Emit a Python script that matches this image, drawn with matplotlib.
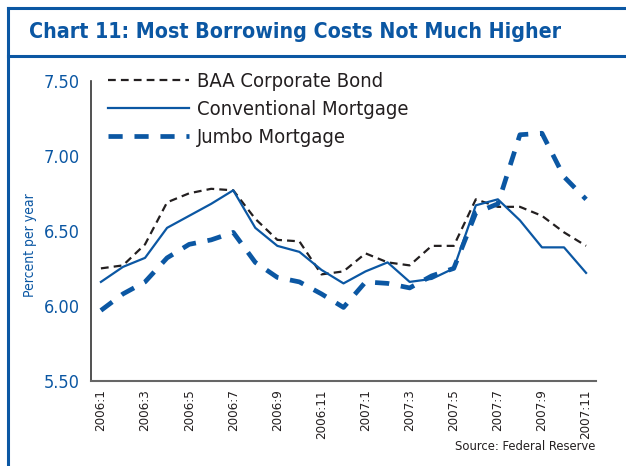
import os
import matplotlib
matplotlib.use("Agg")
import matplotlib.pyplot as plt
from matplotlib.lines import Line2D
from matplotlib import font_manager as fm

months = ["2006:1", "2006:2", "2006:3", "2006:4", "2006:5", "2006:6",
          "2006:7", "2006:8", "2006:9", "2006:10", "2006:11", "2006:12",
          "2007:1", "2007:2", "2007:3", "2007:4", "2007:5", "2007:6",
          "2007:7", "2007:8", "2007:9", "2007:10", "2007:11"]
baa = [6.25, 6.27, 6.41, 6.69, 6.75, 6.78, 6.77, 6.58, 6.44, 6.43, 6.21, 6.23,
       6.35, 6.29, 6.27, 6.40, 6.40, 6.71, 6.66, 6.66, 6.60, 6.49, 6.40]
conventional = [6.16, 6.26, 6.32, 6.52, 6.60, 6.68, 6.77, 6.52, 6.40, 6.36, 6.24, 6.15,
                6.23, 6.29, 6.16, 6.18, 6.25, 6.67, 6.71, 6.57, 6.39, 6.39, 6.22]
jumbo = [5.97, 6.08, 6.16, 6.32, 6.41, 6.44, 6.49, 6.29, 6.19, 6.16, 6.08, 5.99,
         6.16, 6.15, 6.12, 6.20, 6.25, 6.62, 6.68, 7.14, 7.15, 6.86, 6.71]
yticks = [5.50, 6.00, 6.50, 7.00, 7.50]

BLUE = "#0b57a3"
DARK = "#231f20"
W, H = 626, 466

# narrow / condensed faces, first one installed wins
BOLD_PREFS = ["liberationsansnarrow-bold", "notosans-extracondensedbold",
              "notosans-condensedbold", "dejavusanscondensed-bold",
              "robotocondensed-bold", "opensans-condensedbold"]
REG_PREFS = ["liberationsansnarrow-regular", "liberationsansnarrow",
             "notosans-condensed", "notosans-condensedregular",
             "dejavusanscondensed", "robotocondensed-regular",
             "opensans-condensedregular"]

files = {}
for f in fm.fontManager.ttflist:
    key = os.path.splitext(os.path.basename(f.fname))[0].lower().replace("_", "")
    files.setdefault(key, f.fname)


def pick(prefs):
    for p in prefs:
        if p in files:
            return files[p]
    return None


bold_path = pick(BOLD_PREFS)
reg_path = pick(REG_PREFS)


def fp(size, bold=False):
    path = bold_path if bold else reg_path
    if path:
        return fm.FontProperties(fname=path, size=size)
    return fm.FontProperties(family="Liberation Sans", size=size,
                             weight="bold" if bold else "normal")


fig = plt.figure(figsize=(W / 100, H / 100), dpi=100)
renderer = fig.canvas.get_renderer()


def fit(text, target, vertical=False):
    # scale a text so its length matches the original
    bb = text.get_window_extent(renderer)
    size = bb.height if vertical else bb.width
    text.set_fontsize(text.get_fontsize() * target / size)


# frame and title box
def fline(x0, y0, x1, y1):
    fig.add_artist(Line2D([x0 / W, x1 / W], [1 - y0 / H, 1 - y1 / H],
                          color=BLUE, lw=2.2, transform=fig.transFigure))


fline(8, 8, W, 8)
fline(8, 8, 8, H)
fline(8, 56, W, 56)
title = fig.text(29 / W, 1 - 32.5 / H, "Chart 11: Most Borrowing Costs Not Much Higher",
                 color=BLUE, fontproperties=fp(19, bold=True), va="center", ha="left")
fit(title, 530)

ax = fig.add_axes([91 / W, 85 / H, 505 / W, 300.3 / H])
x = list(range(len(months)))
ax.plot(x, baa, color=DARK, lw=1.6, dashes=(3.5, 2.3), label="BAA Corporate Bond")
ax.plot(x, conventional, color=BLUE, lw=1.6, label="Conventional Mortgage")
ax.plot(x, jumbo, color=BLUE, lw=3.4, dashes=(3.0, 2.5), label="Jumbo Mortgage")

ax.set_xlim(-0.45, 22.45)
ax.set_ylim(5.5, 7.5)
ax.set_yticks(yticks)
ax.set_yticklabels([f"{v:.2f}" for v in yticks], color=BLUE)
ax.set_xticks(x[::2])
ax.set_xticklabels(months[::2], rotation=90, color=DARK)
for lab in ax.get_yticklabels():
    lab.set_fontproperties(fp(13))
for lab in ax.get_xticklabels():
    lab.set_fontproperties(fp(9.5))
ax.tick_params(length=0, pad=8)
ax.tick_params(axis="x", pad=6)
for s in ["top", "right"]:
    ax.spines[s].set_visible(False)
ax.spines["left"].set_color("#333333")
ax.spines["bottom"].set_color("#666666")
ax.spines["left"].set_linewidth(1.2)
ax.spines["bottom"].set_linewidth(1.5)

ylab = fig.text(30 / W, 1 - 245 / H, "Percent per year", rotation=90, color=BLUE,
                fontproperties=fp(11.5), ha="center", va="center")
fit(ylab, 103, vertical=True)

ax.legend(loc="upper left", bbox_to_anchor=(108 / W, 1 - 72 / H),
          bbox_transform=fig.transFigure, frameon=False, prop=fp(14.5),
          handlelength=4.0, handletextpad=0.4, labelspacing=0.45,
          borderpad=0, borderaxespad=0, labelcolor=DARK)

src = fig.text(595 / W, 1 - 447 / H, "Source: Federal Reserve", color=DARK,
               fontproperties=fp(12), ha="right", va="center")
fit(src, 140)

fig.savefig("out.png", dpi=100)
